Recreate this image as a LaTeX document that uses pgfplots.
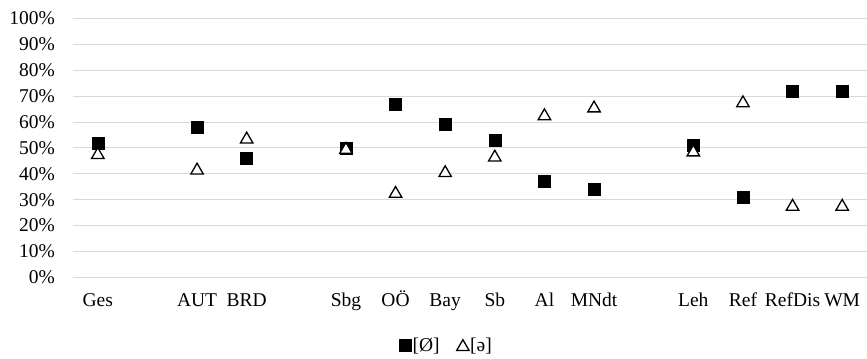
\documentclass[border=0pt]{standalone}
\usepackage{fontspec}
\setmainfont{Liberation Serif}
\usepackage{pgfplots}
\pgfplotsset{compat=1.18}
\definecolor{gridgray}{RGB}{217,217,217}
\begin{document}
\begin{tikzpicture}
\useasboundingbox (-73bp,-81.7bp) rectangle (794bp,277.3bp);
\begin{axis}[
 at={(0,0)}, anchor=south west,
 scale only axis, width=794bp, height=258.8bp,
 xmin=-0.5, xmax=15.5, ymin=0, ymax=100,
 axis line style={draw=none},
 major tick length=0pt,
 ytick={0,10,20,30,40,50,60,70,80,90,100},
 yticklabels={0\%,10\%,20\%,30\%,40\%,50\%,60\%,70\%,80\%,90\%,100\%},
 xtick={0,2,3,5,6,7,8,9,10,12,13,14,15},
 xticklabels={Ges,AUT,BRD,Sbg,OÖ,Bay,Sb,Al,MNdt,Leh,Ref,RefDis,WM},
 ymajorgrids, grid style={draw=gridgray, line width=1bp},
 tick label style={font=\fontsize{19.5bp}{23bp}\selectfont},
 yticklabel style={inner sep=0pt, xshift=-18bp},
 xticklabel style={inner sep=0pt, yshift=-22bp, text height=0.68em, text depth=0.22em},
 legend style={at={(0.47,-0.262)}, anchor=center, draw=none, fill=none,
   font=\fontsize{19.5bp}{23bp}\selectfont, inner sep=0pt,
   nodes={inner sep=1bp},
   /tikz/every even column/.append style={column sep=16bp}},
 legend columns=2,
 legend image code/.code={\draw[#1] plot coordinates {(0,0)};},
 clip=false,
]
\addplot[only marks, mark=square*, mark size=6bp, mark options={fill=black, draw=black}]
 coordinates {(0,52)(2,58)(3,46)(5,50)(6,67)(7,59)(8,53)(9,37)(10,34)(12,51)(13,31)(14,72)(15,72)};
\addlegendentry{[Ø]}
\addplot[only marks, mark=triangle*, mark size=7.2bp, mark options={fill=white, draw=black, line width=1.3bp, yshift=-1.8bp}]
 coordinates {(0,48)(2,42)(3,54)(5,50)(6,33)(7,41)(8,47)(9,63)(10,66)(12,49)(13,68)(14,28)(15,28)};
\addlegendentry{[ə]}
\end{axis}
\end{tikzpicture}
\end{document}
